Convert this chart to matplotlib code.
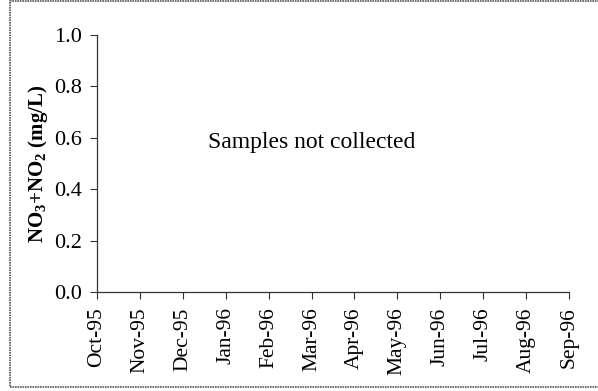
import matplotlib
matplotlib.use("Agg")
import matplotlib.pyplot as plt
from matplotlib.patches import Rectangle

# monthly categories, no samples were collected
months = ["Oct-95", "Nov-95", "Dec-95", "Jan-96", "Feb-96", "Mar-96",
          "Apr-96", "May-96", "Jun-96", "Jul-96", "Aug-96", "Sep-96"]
yticks = [0.0, 0.2, 0.4, 0.6, 0.8, 1.0]
note = "Samples not collected"

plt.rcParams['font.family'] = ['Liberation Serif', 'DejaVu Serif']
plt.rcParams['mathtext.fontset'] = 'custom'
plt.rcParams['mathtext.rm'] = 'Liberation Serif'
plt.rcParams['mathtext.bf'] = 'Liberation Serif:bold'

fig = plt.figure(figsize=(5.98, 3.91), dpi=100)
ax = fig.add_axes([97/598, 1 - 292/391, (569 - 97)/598, (292 - 35)/391])

# outer frame of the figure
fig.patches.append(Rectangle((10/598, 4/391), 1.0, 1 - 5/391, transform=fig.transFigure,
                             fill=False, edgecolor="#555555", linewidth=1.2, linestyle=(0, (1, 0.5))))

ax.set_xlim(0, len(months) - 1)
ax.set_ylim(0, 1.0)
ax.set_xticks(range(len(months)))
ax.set_xticklabels(months, rotation=90, fontsize=15.5)
ax.set_yticks(yticks)
ax.set_yticklabels(["%.1f" % v for v in yticks], fontsize=16)
ax.tick_params(axis="both", direction="out", length=5, width=0.8, color="#333333")
ax.tick_params(axis="y", pad=6)
ax.tick_params(axis="x", pad=6)
for s in ["top", "right"]:
    ax.spines[s].set_visible(False)
for s in ["left", "bottom"]:
    ax.spines[s].set_color("#333333")
    ax.spines[s].set_linewidth(0.9)

ax.set_ylabel(r"NO$_\mathbf{3}$+NO$_\mathbf{2}$ (mg/L)", fontsize=15, fontweight="bold", labelpad=3)
ax.text(5.0, 0.58, note, fontsize=17, ha="center", va="center")

fig.savefig("out.png", dpi=100)
